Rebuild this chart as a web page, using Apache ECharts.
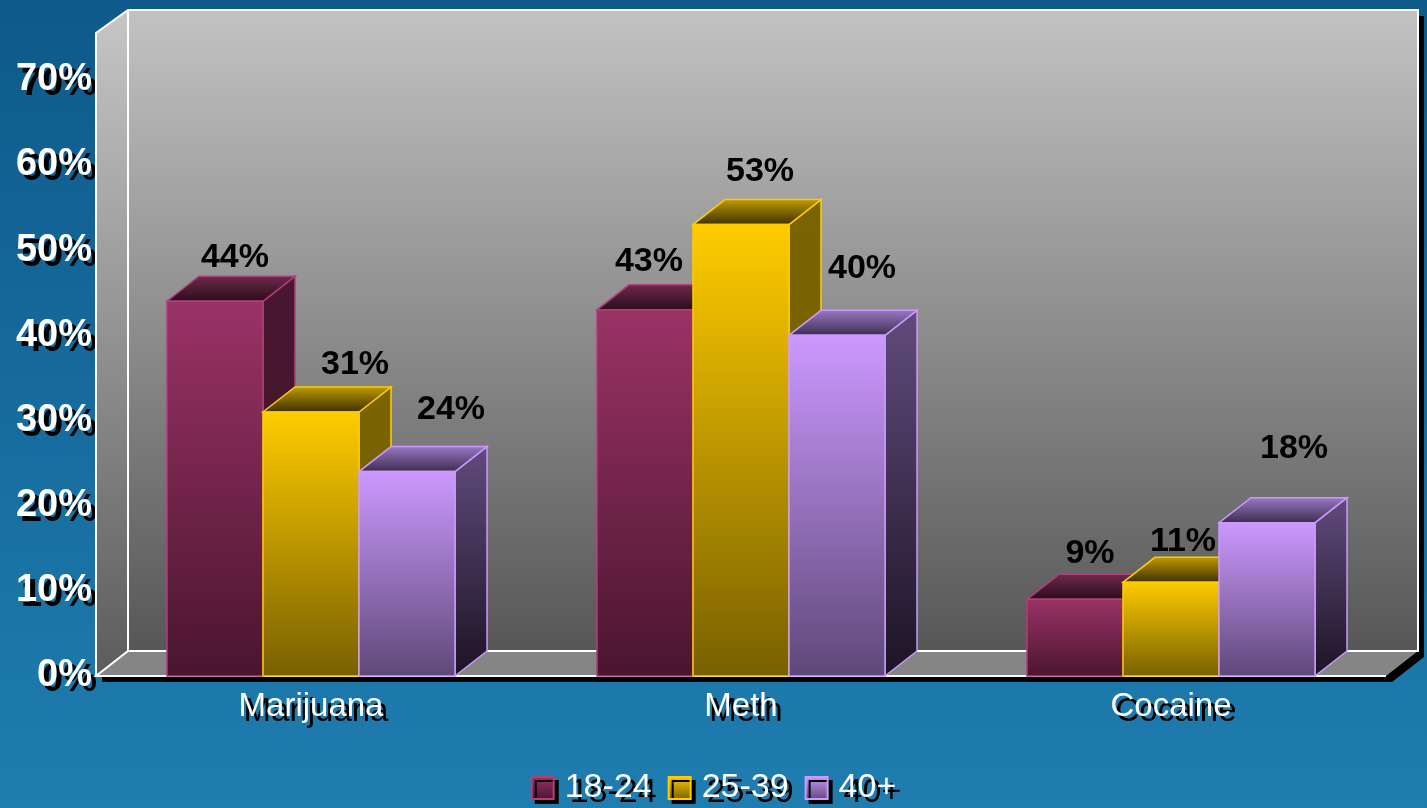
<!DOCTYPE html>
<html>
<head>
<meta charset="utf-8">
<script src="https://cdn.jsdelivr.net/npm/echarts@6/dist/echarts.min.js"></script>
<style>
html,body{margin:0;padding:0;}
#chart{width:1427px;height:808px;}
</style>
</head>
<body>
<div id="chart"></div>
<script>
var categories = ['Marijuana', 'Meth', 'Cocaine'];
var groups = ['18-24', '25-39', '40+'];
var age18to24 = [44, 43, 9];
var age25to39 = [31, 53, 11];
var age40plus = [24, 40, 18];
var yTicks = [0, 10, 20, 30, 40, 50, 60, 70];

// label nudges [dx from bar centre, dy from top back edge]
var labelNudge = [
    [[20, -19], [4, -23], [15, -21]],
    [[44, -22], [19, -28], [12, -16]],
    [[44, -37], [25, -42], [27, -49]]
];

var FONT = '"Liberation Sans", Arial, sans-serif';
var DX = 32, DY = 25;
var G_LEFT = 96, G_TOP = 33, G_RIGHT = 1386, G_BOTTOM = 676;

var palette = [
    {front: ['#9a3366', '#4a1530'], top: ['#6e2a4c', '#2a0c1a'], side: ['#4a1731', '#3e1228'], line: '#b0407a'},
    {front: ['#ffcc00', '#786000'], top: ['#c29c00', '#3a2e00'], side: ['#7a6400', '#766000'], line: '#ffcc00'},
    {front: ['#cc99ff', '#5e4878'], top: ['#9a7ac8', '#3a2c4a'], side: ['#614b7d', '#1c1424'], line: '#cc99ff'}
];

var shadowText = {textShadowColor: '#000', textShadowOffsetX: 5, textShadowOffsetY: 5, textShadowBlur: 0.1};

function grad(c) {
    return new echarts.graphic.LinearGradient(0, 0, 0, 1, [
        {offset: 0, color: c[0]}, {offset: 1, color: c[1]}
    ]);
}

function makeRender(si) {
    var p = palette[si];
    return function (params, api) {
        var cat = api.value(0), val = api.value(1);
        var top = api.coord([cat, val]);
        var base = api.coord([cat, 0]);
        var w = api.size([1, 0])[0] * 0.2233;
        var x0 = top[0] - 1.5 * w + si * w;
        var x1 = x0 + w;
        var yt = top[1], yb = base[1];
        var nudge = labelNudge[si][params.dataIndex];
        var ls = {stroke: p.line, lineWidth: 1.5};
        return {
            type: 'group',
            children: [
                {type: 'polygon', shape: {points: [[x1, yt], [x1 + DX, yt - DY], [x1 + DX, yb - DY], [x1, yb]]},
                    style: Object.assign({fill: grad(p.side)}, ls)},
                {type: 'polygon', shape: {points: [[x0, yt], [x1, yt], [x1 + DX, yt - DY], [x0 + DX, yt - DY]]},
                    style: Object.assign({fill: new echarts.graphic.LinearGradient(0, 1, 0, 0, [
                        {offset: 0, color: p.top[1]}, {offset: 1, color: p.top[0]}])}, ls)},
                {type: 'rect', shape: {x: x0, y: yt, width: w, height: yb - yt},
                    style: Object.assign({fill: grad(p.front)}, ls)},
                {type: 'text', z2: 50, style: {
                    text: val + '%', x: x0 + w / 2 + nudge[0], y: yt - DY + nudge[1],
                    align: 'center', verticalAlign: 'middle',
                    font: 'bold 34px ' + FONT, fill: '#000'
                }}
            ]
        };
    };
}

var seriesData = [age18to24, age25to39, age40plus];
var series = groups.map(function (name, si) {
    return {
        name: name,
        type: 'custom',
        renderItem: makeRender(si),
        itemStyle: {color: grad(palette[si].front), borderColor: palette[si].line, borderWidth: 1.5},
        encode: {x: 0, y: 1},
        data: seriesData[si].map(function (v, i) { return [i, v]; }),
        z: 3
    };
});

var wallGrad = new echarts.graphic.LinearGradient(0, 0, 0, 1, [
    {offset: 0, color: '#c2c2c2'}, {offset: 1, color: '#575757'}
]);
var white = {stroke: '#ffffff', lineWidth: 2};

var chart = echarts.init(document.getElementById('chart'));
chart.setOption({
    backgroundColor: new echarts.graphic.LinearGradient(0, 0, 0, 1, [
        {offset: 0, color: '#0e5a8a'}, {offset: 1, color: '#1f7db0'}
    ]),
    animation: false,
    graphic: [
        {type: 'polygon', z: 0, shape: {points: [[G_LEFT + 6, G_TOP + 6], [G_LEFT + DX + 6, G_TOP - 23 + 6],
            [G_RIGHT + DX + 6, G_TOP - 23 + 6], [G_RIGHT + DX + 6, G_BOTTOM - DY + 6], [G_RIGHT + 6, G_BOTTOM + 6], [G_LEFT + 6, G_BOTTOM + 6]]},
            style: {fill: '#000'}},
        {type: 'rect', z: 0, shape: {x: G_LEFT + DX, y: G_TOP - 23, width: G_RIGHT - G_LEFT, height: G_BOTTOM - DY - G_TOP + 23},
            style: {fill: wallGrad}},
        {type: 'polygon', z: 0, shape: {points: [[G_LEFT, G_TOP], [G_LEFT + DX, G_TOP - 23], [G_LEFT + DX, G_BOTTOM - DY], [G_LEFT, G_BOTTOM]]},
            style: {fill: new echarts.graphic.LinearGradient(0, 0, 0, 1, [
                {offset: 0, color: '#c6c6c6'}, {offset: 1, color: '#5c5c5c'}])}},
        {type: 'polygon', z: 0, shape: {points: [[G_LEFT, G_BOTTOM], [G_RIGHT, G_BOTTOM], [G_RIGHT + DX, G_BOTTOM - DY], [G_LEFT + DX, G_BOTTOM - DY]]},
            style: {fill: '#858585'}},
        {type: 'polyline', z: 1, shape: {points: [[G_LEFT, G_BOTTOM], [G_LEFT, G_TOP], [G_LEFT + DX, G_TOP - 23],
            [G_RIGHT + DX, G_TOP - 23], [G_RIGHT + DX, G_BOTTOM - DY], [G_LEFT + DX, G_BOTTOM - DY], [G_LEFT, G_BOTTOM], [G_RIGHT, G_BOTTOM]]},
            style: Object.assign({fill: null}, white)},
        {type: 'line', z: 1, shape: {x1: G_LEFT + DX, y1: G_TOP - 23, x2: G_LEFT + DX, y2: G_BOTTOM - DY}, style: white}
    ],
    grid: {left: G_LEFT, top: G_TOP, right: 1427 - G_RIGHT, bottom: 808 - G_BOTTOM},
    legend: {
        data: groups,
        top: 766,
        left: 'center',
        icon: 'rect',
        itemWidth: 22,
        itemHeight: 22,
        itemGap: 16,
        itemStyle: {shadowColor: '#000', shadowOffsetX: 4, shadowOffsetY: 4, shadowBlur: 0},
        textStyle: Object.assign({
            color: '#fff', fontSize: 34, fontFamily: FONT, padding: [0, 0, 0, 6]
        }, shadowText)
    },
    xAxis: {
        type: 'category',
        data: categories,
        axisLine: {show: false},
        axisTick: {show: false},
        axisLabel: Object.assign({
            color: '#fff', fontSize: 33, fontFamily: FONT, margin: 14
        }, shadowText)
    },
    yAxis: {
        type: 'value',
        min: yTicks[0],
        max: 75.5,
        interval: 10,
        axisLine: {show: false},
        axisTick: {show: false},
        splitLine: {show: false},
        axisLabel: Object.assign({
            showMaxLabel: false,
            formatter: function (v) { return yTicks.indexOf(v) >= 0 ? v + '%' : ''; },
            color: '#fff', fontSize: 38, fontWeight: 'bold', fontFamily: FONT, margin: 4
        }, shadowText)
    },
    series: series
});
</script>
</body>
</html>
